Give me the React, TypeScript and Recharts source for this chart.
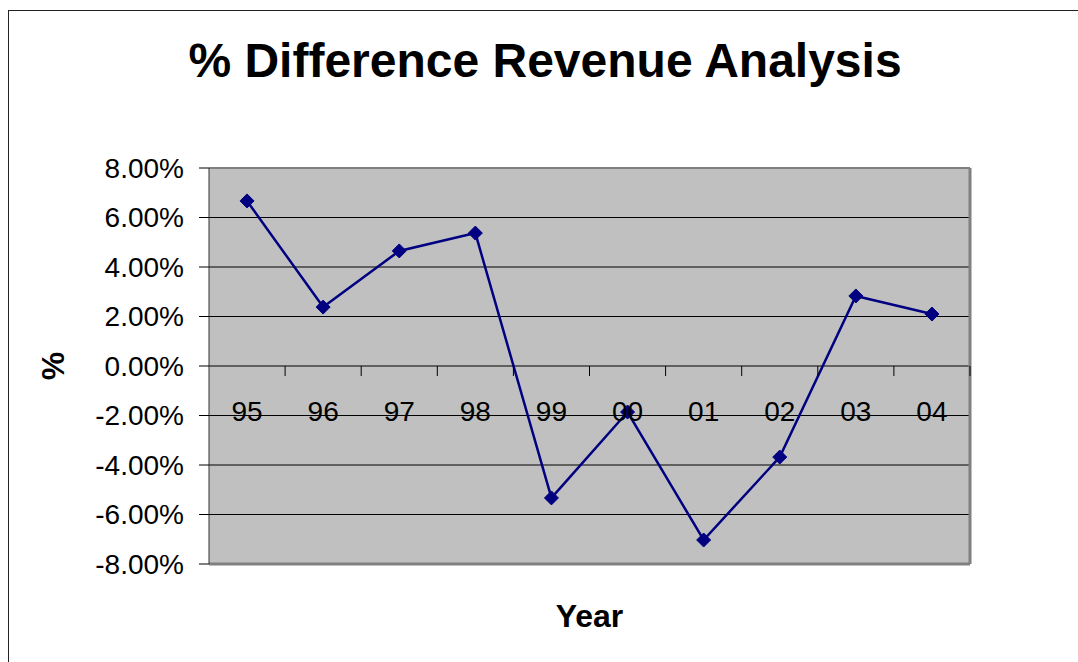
import { LineChart, Line, XAxis, YAxis, CartesianGrid } from 'recharts';

const years = ['95', '96', '97', '98', '99', '00', '01', '02', '03', '04'];
const pctDiff = [0.0667, 0.0238, 0.0465, 0.0537, -0.0533, -0.0186, -0.0703, -0.0368, 0.0283, 0.021];
const yTicks = [-0.08, -0.06, -0.04, -0.02, 0, 0.02, 0.04, 0.06, 0.08];

const data = years.map((year, i) => ({ year, value: pctDiff[i] }));

const W = 1060;
const H = 650;
const M = { top: 156, right: 98, left: 0, bottom: 67 };
const Y_AXIS_W = 200;
const TOP_AXIS_H = 1;
const X_AXIS_H = 30;
const PLOT_W = W - M.right - 1 - Y_AXIS_W;
const PLOT_H = H - M.top - TOP_AXIS_H - M.bottom - X_AXIS_H;
const ZERO_Y = M.top + TOP_AXIS_H + PLOT_H / 2;
const BAND = PLOT_W / years.length;
const FONT = '"Liberation Sans", Arial, sans-serif';

function fmt(v: number) {
  return `${(v * 100).toFixed(2)}%`;
}

function YearTick({ x, payload }: any) {
  return (
    <g>
      <text x={x} y={ZERO_Y + 55} textAnchor="middle" fontSize={28} fill="#000">
        {payload.value}
      </text>
      <line x1={x + BAND / 2} x2={x + BAND / 2} y1={ZERO_Y} y2={ZERO_Y + 10} stroke="#000" />
    </g>
  );
}

function Diamond({ cx, cy, index }: any) {
  const r = 7;
  return (
    <polygon
      key={index}
      points={`${cx},${cy - r} ${cx + r},${cy} ${cx},${cy + r} ${cx - r},${cy}`}
      fill="#000080"
      stroke="#000080"
    />
  );
}

export default function App() {
  return (
    <div
      style={{
        position: 'fixed',
        left: 8,
        top: 10,
        width: 1070,
        height: 652,
        borderTop: '1px solid #222',
        borderLeft: '1px solid #222',
        fontFamily: FONT,
        background: '#fff',
      }}
    >
      <div
        style={{
          position: 'absolute',
          top: 26,
          left: 0,
          width: 1072,
          textAlign: 'center',
          fontSize: 48,
          lineHeight: '47px',
          fontWeight: 'bold',
          color: '#000',
        }}
      >
        % Difference Revenue Analysis
      </div>
      <LineChart width={W} height={H} data={data} margin={M}>
        <CartesianGrid vertical={false} stroke="#000" fill="#c0c0c0" fillOpacity={1} />
        <XAxis
          xAxisId="top"
          orientation="top"
          dataKey="year"
          height={TOP_AXIS_H}
          tick={false}
          tickLine={false}
          axisLine={{ stroke: '#808080', strokeWidth: 2 }}
        />
        <YAxis
          yAxisId="right"
          orientation="right"
          width={1}
          domain={[-0.08, 0.08]}
          ticks={yTicks}
          tick={false}
          tickLine={false}
          axisLine={{ stroke: '#808080', strokeWidth: 3 }}
        />
        <XAxis
          dataKey="year"
          height={X_AXIS_H}
          padding={{ left: BAND / 2, right: BAND / 2 }}
          axisLine={{ stroke: '#808080', strokeWidth: 3 }}
          tickLine={false}
          tick={<YearTick />}
          interval={0}
          label={(p: any) => {
            const vb = p.viewBox;
            return (
              <text x={vb.x + vb.width / 2} y={vb.y + 63} textAnchor="middle" fontSize={32} fontWeight="bold" fill="#000">
                Year
              </text>
            );
          }}
        />
        <YAxis
          width={Y_AXIS_W}
          domain={[-0.08, 0.08]}
          ticks={yTicks}
          tickFormatter={fmt}
          tickSize={10}
          tickMargin={15}
          tick={{ fontSize: 28, fill: '#000' }}
          axisLine={{ stroke: '#333' }}
          tickLine={{ stroke: '#000' }}
          label={(p: any) => {
            const vb = p.viewBox;
            const cx = vb.x + 44;
            const cy = vb.y + vb.height / 2;
            return (
              <text
                x={cx}
                y={cy}
                textAnchor="middle"
                dominantBaseline="central"
                transform={`rotate(-90 ${cx} ${cy})`}
                fontSize={32}
                fontWeight="bold"
                fill="#000"
              >
                %
              </text>
            );
          }}
        />
        <Line
          type="linear"
          dataKey="value"
          stroke="#000080"
          strokeWidth={2.5}
          dot={<Diamond />}
          activeDot={false}
          isAnimationActive={false}
        />
      </LineChart>
    </div>
  );
}
